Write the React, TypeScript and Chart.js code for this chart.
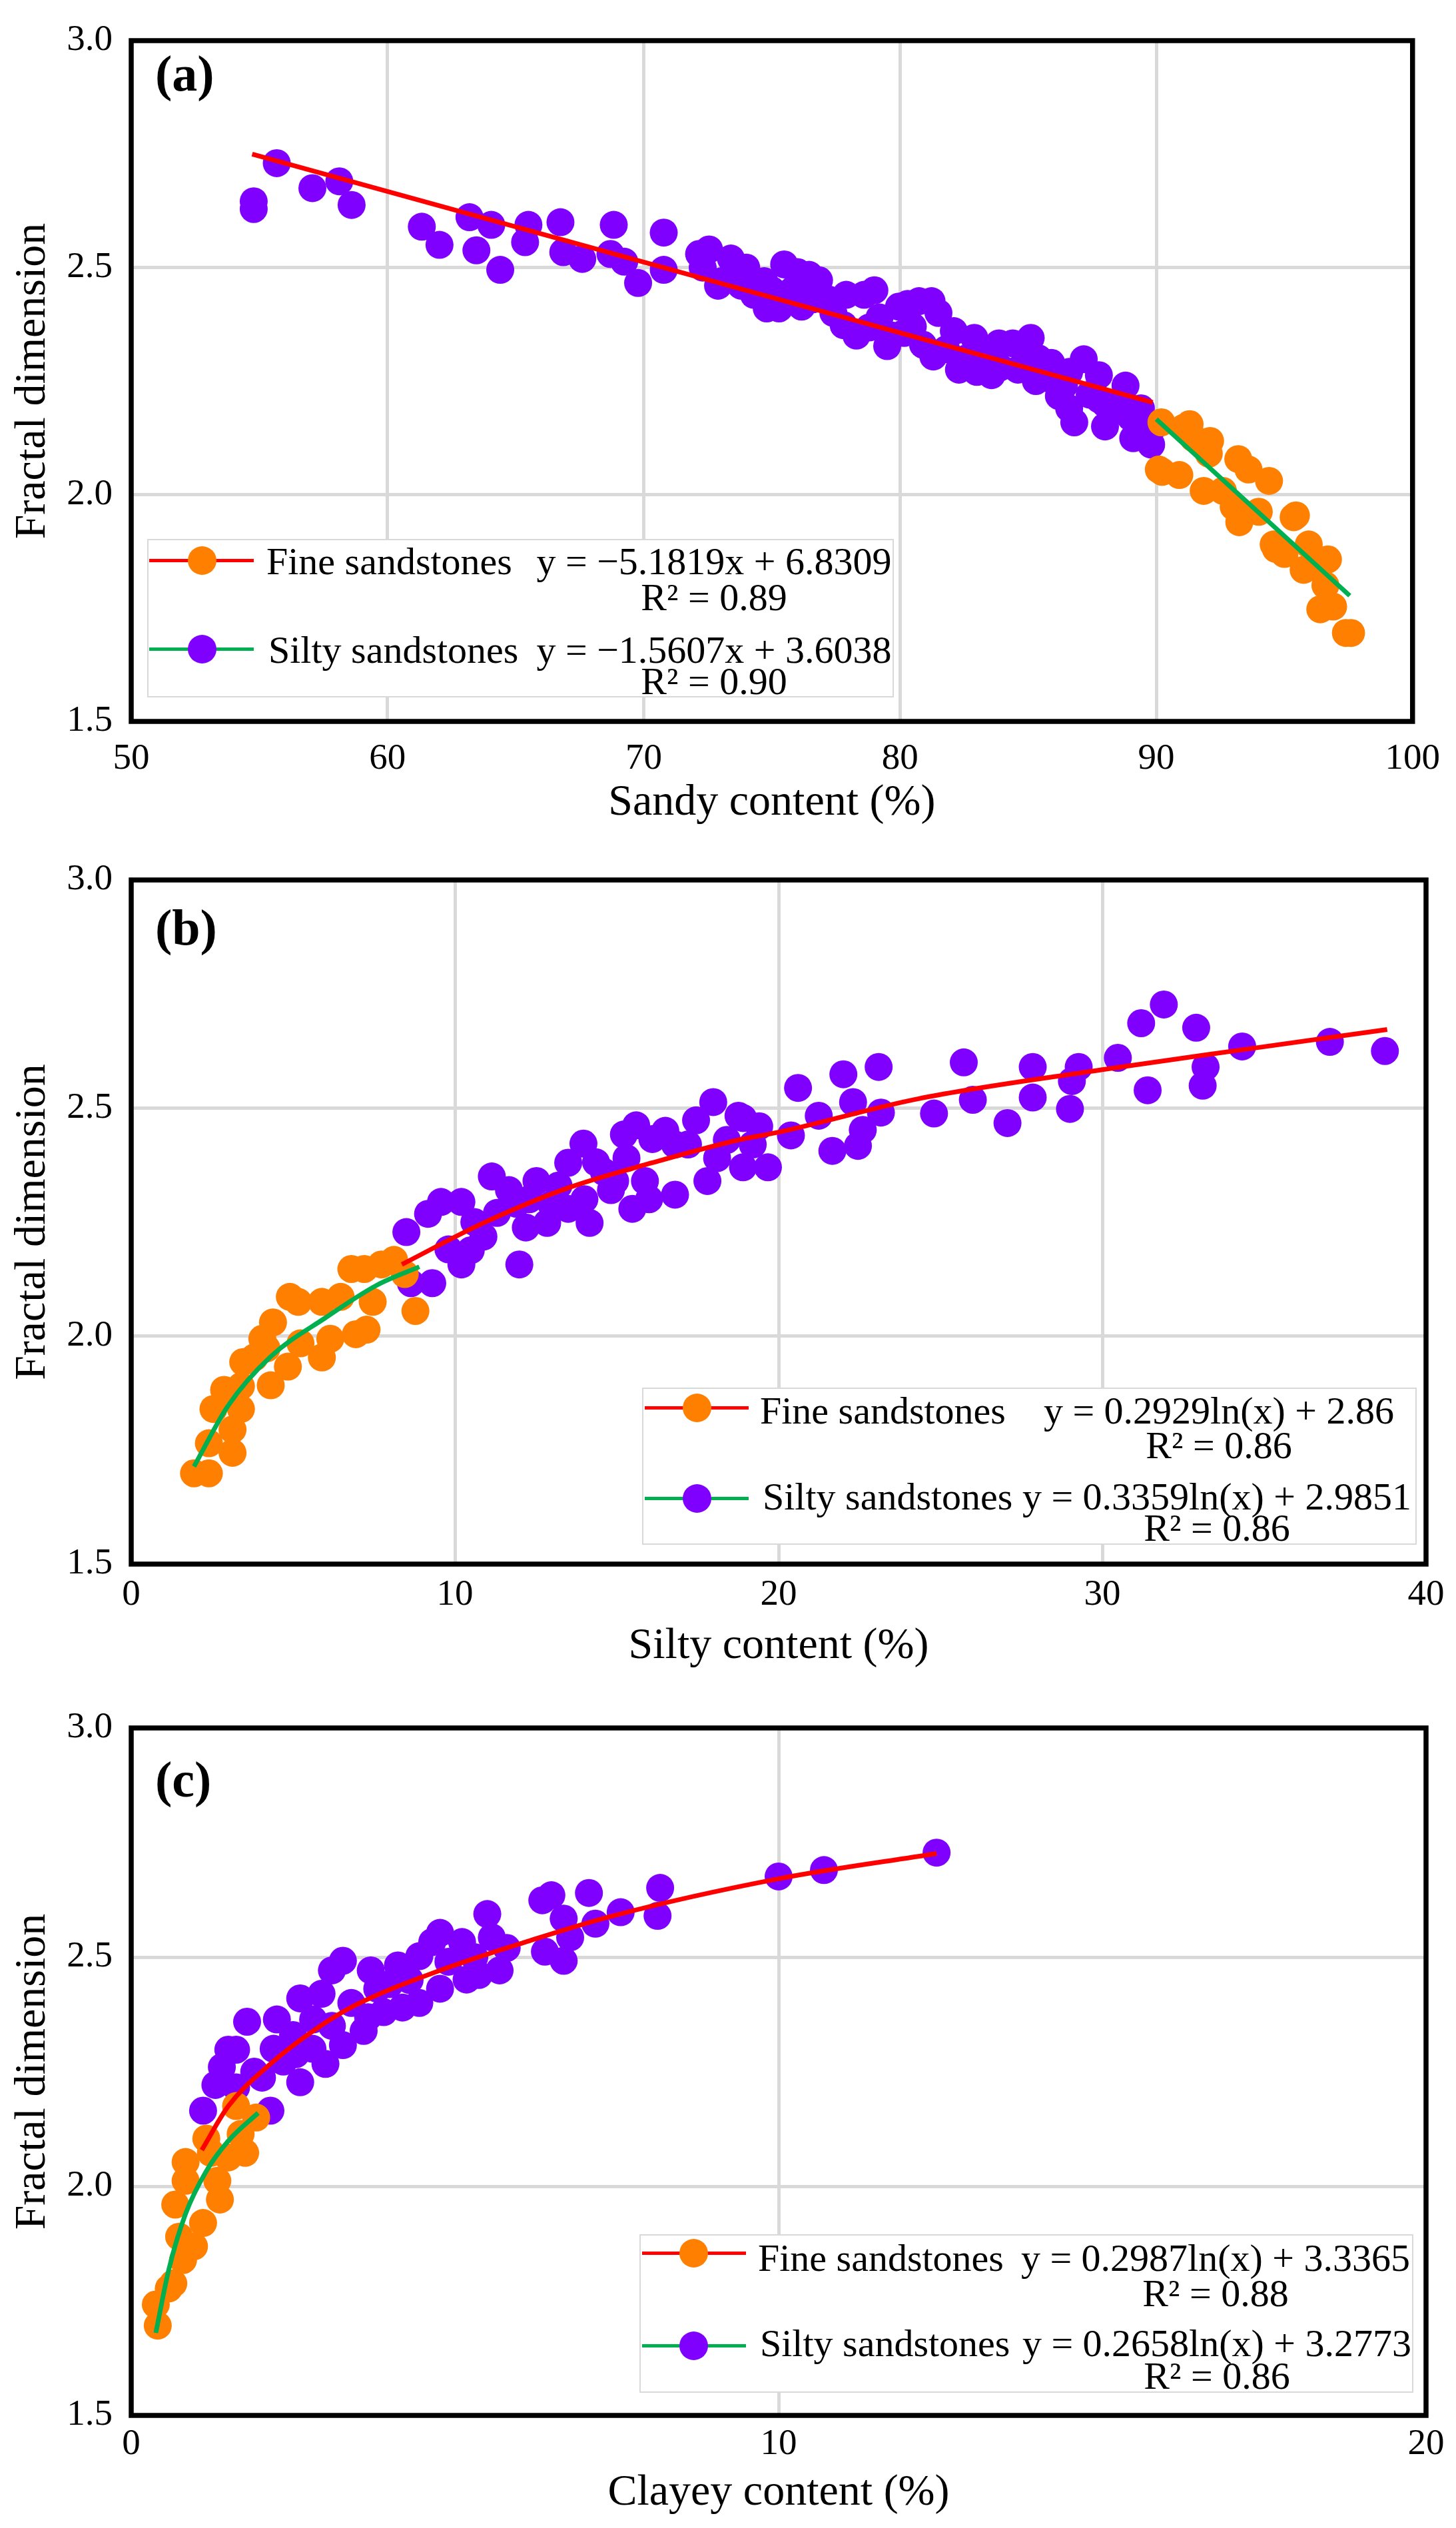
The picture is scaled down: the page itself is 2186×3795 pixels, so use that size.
import React, { useEffect, useRef } from 'react';
import { Chart, registerables } from 'chart.js';

Chart.register(...registerables);

const FONT = "'Liberation Serif', 'Times New Roman', Times, serif";
Chart.defaults.font.family = FONT;
Chart.defaults.color = '#000';

const PURPLE = '#8000ff';
const ORANGE = '#ff8000';
const RED = '#ff0000';
const GREEN = '#00b050';

type Pt = [number, number];

// ---------- Panel (a): Sandy content ----------
const aSilty: Pt[] = [
  [54.78, 2.646], [54.78, 2.629], [55.68, 2.73], [57.07, 2.675], [58.12, 2.69], [58.6, 2.638],
  [61.34, 2.59], [62.03, 2.55], [63.2, 2.611], [63.47, 2.538], [64.05, 2.594], [64.4, 2.495],
  [65.37, 2.556], [65.5, 2.594], [66.75, 2.6], [66.86, 2.534], [67.6, 2.519], [68.7, 2.53],
  [68.83, 2.594], [69.24, 2.513], [69.78, 2.466], [70.78, 2.577], [70.78, 2.495], [72.16, 2.53],
  [72.3, 2.5], [72.55, 2.54], [72.9, 2.46], [73.04, 2.47], [73.4, 2.52], [73.6, 2.49],
  [73.8, 2.46], [74.0, 2.5], [74.3, 2.44], [74.7, 2.47], [74.8, 2.41], [75.0, 2.45],
  [75.28, 2.41], [75.48, 2.507], [75.8, 2.45], [76.0, 2.49], [76.16, 2.414], [76.45, 2.484],
  [76.6, 2.43], [76.84, 2.472], [77.2, 2.43], [77.4, 2.4], [77.8, 2.373], [77.9, 2.44],
  [78.3, 2.35], [78.6, 2.44], [78.8, 2.368], [79.0, 2.45], [79.2, 2.39], [79.5, 2.327],
  [79.7, 2.35], [79.96, 2.414], [80.16, 2.356], [80.3, 2.42], [80.5, 2.37], [80.74, 2.426],
  [80.9, 2.33], [81.23, 2.426], [81.3, 2.304], [81.5, 2.4], [81.8, 2.32], [82.1, 2.36],
  [82.3, 2.275], [82.6, 2.3], [82.9, 2.345], [83.0, 2.27], [83.2, 2.3], [83.5, 2.32],
  [83.57, 2.263], [83.86, 2.333], [83.9, 2.28], [84.4, 2.333], [84.6, 2.275], [85.0, 2.31],
  [85.1, 2.345], [85.3, 2.25], [85.4, 2.3], [85.7, 2.263], [85.9, 2.29], [86.0, 2.25],
  [86.2, 2.217], [86.4, 2.24], [86.6, 2.19], [86.6, 2.27], [86.8, 2.159], [87.17, 2.298],
  [87.4, 2.22], [87.76, 2.263], [87.76, 2.21], [88.0, 2.15], [88.0, 2.2], [88.25, 2.182],
  [88.5, 2.2], [88.8, 2.24], [89.0, 2.17], [89.1, 2.124], [89.4, 2.19], [89.6, 2.153],
  [89.8, 2.11], [89.9, 2.15],
];
const aFine: Pt[] = [
  [90.2, 2.159], [90.1, 2.055], [90.23, 2.05], [90.9, 2.043], [91.07, 2.147], [91.3, 2.155],
  [91.46, 2.124], [91.85, 2.008], [92.05, 2.09], [92.1, 2.118], [92.6, 2.008], [93.02, 1.973],
  [93.2, 2.078], [93.24, 1.939], [93.6, 2.055], [94.0, 1.962], [94.4, 2.03], [94.58, 1.89],
  [94.67, 1.88], [95.0, 1.869], [95.36, 1.95], [95.45, 1.954], [95.75, 1.834], [95.95, 1.89],
  [96.3, 1.846], [96.4, 1.747], [96.6, 1.8], [96.7, 1.857], [96.9, 1.753], [97.4, 1.695],
  [97.6, 1.695],
];
const aRedTrend: Pt[] = [[54.72, 2.75], [89.86, 2.203]];
const aGreenTrend: Pt[] = [[90.0, 2.166], [97.55, 1.777]];

// ---------- Panel (b): Silty content ----------
const bFine: Pt[] = [
  [1.94, 1.699], [2.4, 1.699], [3.13, 1.744], [2.4, 1.765], [3.13, 1.795], [2.54, 1.84],
  [3.39, 1.84], [2.87, 1.882], [3.39, 1.89], [3.46, 1.943], [4.31, 1.892], [4.18, 1.973],
  [4.84, 1.933], [4.38, 2.03], [4.05, 1.994], [5.16, 2.075], [5.23, 1.984], [5.89, 1.953],
  [5.89, 2.075], [6.15, 1.994], [6.94, 2.004], [7.27, 2.014], [6.8, 2.147], [6.47, 2.086],
  [7.46, 2.075], [7.73, 2.157], [8.12, 2.167], [8.45, 2.136], [8.78, 2.055], [7.2, 2.147],
  [4.9, 2.086], [3.8, 1.953],
];
const bSilty: Pt[] = [
  [8.5, 2.228], [8.64, 2.116], [9.3, 2.116], [9.17, 2.268], [9.57, 2.294], [9.8, 2.19],
  [10.2, 2.294], [10.2, 2.157], [10.49, 2.188], [10.6, 2.25], [10.88, 2.218], [11.14, 2.35],
  [11.3, 2.27], [11.67, 2.32], [11.9, 2.29], [11.99, 2.157], [12.19, 2.238], [12.3, 2.3],
  [12.52, 2.34], [12.85, 2.248], [12.98, 2.289], [13.2, 2.33], [13.5, 2.279], [13.5, 2.38],
  [13.97, 2.422], [14.0, 2.3], [14.16, 2.248], [14.36, 2.381], [14.6, 2.36], [14.82, 2.32],
  [14.95, 2.34], [15.22, 2.442], [15.3, 2.39], [15.48, 2.279], [15.6, 2.462], [15.87, 2.34],
  [16.0, 2.3], [16.1, 2.432], [16.5, 2.45], [16.8, 2.31], [16.8, 2.42], [17.2, 2.42],
  [17.45, 2.473], [17.8, 2.34], [17.98, 2.513], [18.1, 2.39], [18.4, 2.43], [18.76, 2.483],
  [18.9, 2.37], [18.9, 2.478], [19.2, 2.42], [19.4, 2.46], [19.67, 2.37], [20.38, 2.44],
  [20.6, 2.544], [21.24, 2.483], [21.66, 2.406], [22.0, 2.574], [22.3, 2.513], [22.45, 2.417],
  [22.6, 2.452], [23.09, 2.59], [23.16, 2.49], [24.8, 2.488], [25.72, 2.6], [26.0, 2.518],
  [27.07, 2.467], [27.85, 2.59], [27.85, 2.523], [29.0, 2.498], [29.06, 2.559], [29.27, 2.59],
  [30.48, 2.61], [31.2, 2.686], [31.4, 2.539], [31.9, 2.727], [32.9, 2.676], [33.1, 2.549],
  [33.19, 2.59], [34.32, 2.635], [37.03, 2.645], [38.73, 2.625],
];
const bRedTrend: Pt[] = [
  [8.36, 2.157], [10.88, 2.248], [13.5, 2.325], [16.1, 2.38], [18.76, 2.43], [20.0, 2.447],
  [24.3, 2.52], [30.0, 2.584], [34.25, 2.627], [38.8, 2.672],
];
const bGreenTrend: Pt[] = [
  [1.94, 1.714], [3.0, 1.848], [4.31, 1.955], [6.0, 2.04], [7.6, 2.112], [8.9, 2.152],
];

// ---------- Panel (c): Clayey content ----------
const cFine: Pt[] = [
  [0.41, 1.696], [0.38, 1.742], [0.58, 1.777], [0.65, 1.788], [0.8, 1.839], [0.74, 1.89],
  [0.97, 1.869], [0.68, 1.96], [1.11, 1.92], [0.84, 2.012], [1.37, 1.971], [0.84, 2.053],
  [1.33, 2.012], [1.23, 2.073], [1.5, 2.063], [1.16, 2.104], [1.76, 2.073], [1.69, 2.114],
  [1.93, 2.15], [1.62, 2.175],
];
const cSilty: Pt[] = [
  [1.11, 2.165], [1.3, 2.221], [1.4, 2.26], [1.5, 2.298], [1.62, 2.216], [1.62, 2.298],
  [1.79, 2.359], [1.9, 2.25], [2.02, 2.237], [2.15, 2.165], [2.2, 2.3], [2.25, 2.364],
  [2.35, 2.272], [2.5, 2.33], [2.54, 2.288], [2.61, 2.227], [2.61, 2.41], [2.8, 2.3],
  [2.81, 2.364], [2.94, 2.42], [3.0, 2.267], [3.1, 2.35], [3.1, 2.471], [3.27, 2.492],
  [3.27, 2.308], [3.4, 2.4], [3.59, 2.339], [3.66, 2.369], [3.7, 2.471], [3.8, 2.431],
  [3.9, 2.38], [3.99, 2.441], [4.12, 2.482], [4.19, 2.39], [4.3, 2.45], [4.45, 2.4],
  [4.45, 2.502], [4.65, 2.533], [4.77, 2.553], [4.77, 2.431], [4.9, 2.49], [5.11, 2.533],
  [5.18, 2.451], [5.3, 2.5], [5.37, 2.461], [5.5, 2.594], [5.57, 2.543], [5.69, 2.471],
  [5.8, 2.52], [6.35, 2.624], [6.39, 2.512], [6.49, 2.635], [6.68, 2.584], [6.68, 2.492],
  [6.78, 2.543], [7.07, 2.64], [7.17, 2.573], [7.56, 2.598], [8.13, 2.59], [8.17, 2.651],
  [10.0, 2.676], [10.7, 2.69], [12.44, 2.728],
];
const cRedTrend: Pt[] = [
  [1.09, 2.079], [1.5, 2.175], [2.15, 2.267], [2.81, 2.339], [3.46, 2.395], [4.77, 2.471],
  [6.09, 2.533], [7.41, 2.589], [10.0, 2.671], [12.44, 2.726],
];
const cGreenTrend: Pt[] = [
  [0.38, 1.68], [0.58, 1.818], [0.84, 1.94], [1.16, 2.033], [1.5, 2.099], [1.96, 2.16],
];

const yTicks = ['1.5', '2.0', '2.5', '3.0'];

type PanelCfg = {
  top: number;
  height: number;
  xMin: number;
  xMax: number;
  xStep: number;
  xTitle: string;
  padTop: number;
  axisH: number;
  padBottom: number;
  tickPad: number;
  silty: Pt[];
  fine: Pt[];
  red: Pt[];
  green: Pt[];
};

const toXY = (pts: Pt[]) => pts.map(([x, y]) => ({ x, y }));

const framePlugin = {
  id: 'frameBox',
  afterDatasetsDraw(chart: any) {
    const { ctx, chartArea } = chart;
    const { left, top, right, bottom } = chartArea;
    ctx.save();
    ctx.strokeStyle = '#000';
    ctx.lineWidth = 7.5;
    ctx.strokeRect(left, top, right - left, bottom - top);
    ctx.restore();
  },
};

function Panel({ cfg }: { cfg: PanelCfg }) {
  const ref = useRef<HTMLCanvasElement | null>(null);
  useEffect(() => {
    if (!ref.current) return;
    const pointDs = (pts: Pt[], color: string, order: number) => ({
      data: toXY(pts),
      backgroundColor: color,
      borderColor: color,
      pointRadius: 21,
      pointHoverRadius: 21,
      pointBorderWidth: 0,
      showLine: false,
      order,
    });
    const lineDs = (pts: Pt[], color: string, order: number) => ({
      data: toXY(pts),
      borderColor: color,
      backgroundColor: color,
      borderWidth: 7,
      pointRadius: 0,
      pointHoverRadius: 0,
      showLine: true,
      fill: false,
      cubicInterpolationMode: 'monotone',
      order,
    });
    const chart = new Chart(ref.current, {
      type: 'scatter',
      data: {
        datasets: [
          pointDs(cfg.silty, PURPLE, 4) as any,
          pointDs(cfg.fine, ORANGE, 3) as any,
          lineDs(cfg.red, RED, 2) as any,
          lineDs(cfg.green, GREEN, 1) as any,
        ],
      },
      options: {
        responsive: false,
        animation: false,
        events: [],
        layout: { padding: { top: cfg.padTop, bottom: cfg.padBottom, left: 0, right: 45 } },
        plugins: { legend: { display: false }, tooltip: { enabled: false } },
        scales: {
          x: {
            type: 'linear',
            min: cfg.xMin,
            max: cfg.xMax,
            ticks: {
              stepSize: cfg.xStep,
              color: '#000',
              padding: cfg.tickPad,
              font: { family: FONT, size: 55 },
            },
            grid: { color: '#d9d9d9', lineWidth: 5, drawTicks: false },
            border: { display: false },
            title: {
              display: true,
              text: cfg.xTitle,
              color: '#000',
              padding: 0,
              font: { family: FONT, size: 66, lineHeight: 1.2 },
            },
            afterFit: (s: any) => {
              s.height = cfg.axisH;
            },
          },
          y: {
            type: 'linear',
            min: 1.5,
            max: 3.0,
            ticks: {
              stepSize: 0.5,
              color: '#000',
              padding: 28,
              font: { family: FONT, size: 55 },
              callback: (v: any) => {
                const s = Number(v).toFixed(1);
                return yTicks.includes(s) ? s : '';
              },
            },
            grid: { color: '#d9d9d9', lineWidth: 5, drawTicks: false },
            border: { display: false },
            title: {
              display: true,
              text: 'Fractal dimension',
              color: '#000',
              padding: { top: 10, bottom: 0 },
              font: { family: FONT, size: 66, lineHeight: 1.2 },
            },
            afterFit: (s: any) => {
              s.width = 197;
            },
          },
        },
      } as any,
      plugins: [framePlugin],
    });
    return () => chart.destroy();
  }, [cfg]);
  return (
    <canvas
      ref={ref}
      width={2186}
      height={cfg.height}
      style={{ position: 'absolute', left: 0, top: cfg.top, width: 2186, height: cfg.height }}
    />
  );
}

const panelA: PanelCfg = {
  top: 0, height: 1260, xMin: 50, xMax: 100, xStep: 10, xTitle: 'Sandy content (%)',
  padTop: 52, axisH: 162.6, padBottom: 14.4, tickPad: 24,
  silty: aSilty, fine: aFine, red: aRedTrend, green: aGreenTrend,
};
const panelB: PanelCfg = {
  top: 1260, height: 1270, xMin: 0, xMax: 40, xStep: 10, xTitle: 'Silty content (%)',
  padTop: 56, axisH: 163.6, padBottom: 18.4, tickPad: 14,
  silty: bSilty, fine: bFine, red: bRedTrend, green: bGreenTrend,
};
const panelC: PanelCfg = {
  top: 2530, height: 1265, xMin: 0, xMax: 20, xStep: 10, xTitle: 'Clayey content (%)',
  padTop: 64, axisH: 156.6, padBottom: 12.4, tickPad: 11,
  silty: cSilty, fine: cFine, red: cRedTrend, green: cGreenTrend,
};

type LegRow = {
  lineY: number; x1: number; x2: number; dotX: number; lineColor: string; dotColor: string;
  name: string; nameLeft: number; textY: number; eq: string; eqCenter: number; r2: string; r2Y: number;
};

const LF = 58;
const textAt = (left: number, cy: number): React.CSSProperties => ({
  position: 'absolute', left, top: cy - LF * 0.507, fontFamily: FONT, fontSize: LF,
  lineHeight: `${LF}px`, whiteSpace: 'nowrap', color: '#000',
});
const centerAt = (cx: number, cy: number): React.CSSProperties => ({
  ...textAt(cx - 500, cy), width: 1000, textAlign: 'center',
});

function LegendBox({ box, rows }: { box: { left: number; top: number; width: number; height: number }; rows: LegRow[] }) {
  return (
    <>
      <div style={{ position: 'absolute', left: box.left, top: box.top, width: box.width, height: box.height,
        border: '2px solid #d9d9d9', background: '#fff', boxSizing: 'border-box' }} />
      {rows.map((r, i) => (
        <React.Fragment key={i}>
          <div style={{ position: 'absolute', left: r.x1, top: r.lineY - 2.5, width: r.x2 - r.x1, height: 5, background: r.lineColor }} />
          <div style={{ position: 'absolute', left: r.dotX - 21.5, top: r.lineY - 21.5, width: 43, height: 43, borderRadius: '50%', background: r.dotColor }} />
          <div style={textAt(r.nameLeft, r.textY)}>{r.name}</div>
          <div style={centerAt(r.eqCenter, r.textY)}>{r.eq}</div>
          <div style={centerAt(r.eqCenter, r.r2Y)}>{r.r2}</div>
        </React.Fragment>
      ))}
    </>
  );
}

const labelStyle = (top: number): React.CSSProperties => ({
  position: 'absolute', left: 233, top, fontFamily: FONT, fontSize: 76, fontWeight: 'bold',
  lineHeight: '76px', color: '#000', whiteSpace: 'nowrap',
});

export default function App() {
  return (
    <div style={{ position: 'absolute', left: 0, top: 0, width: 2186, height: 3795, overflow: 'hidden', background: '#fff' }}>
      <Panel cfg={panelA} />
      <Panel cfg={panelB} />
      <Panel cfg={panelC} />
      <div style={labelStyle(72)}>(a)</div>
      <div style={labelStyle(1354)}>(b)</div>
      <div style={labelStyle(2633)}>(c)</div>
      <LegendBox
        box={{ left: 221, top: 809, width: 1121, height: 238 }}
        rows={[
          { lineY: 841, x1: 224, x2: 381, dotX: 303, lineColor: RED, dotColor: ORANGE, name: 'Fine sandstones',
            nameLeft: 400, textY: 843, eq: 'y = \u22125.1819x + 6.8309', eqCenter: 1072, r2: 'R\u00b2 = 0.89', r2Y: 897 },
          { lineY: 974, x1: 224, x2: 381, dotX: 303, lineColor: GREEN, dotColor: PURPLE, name: 'Silty sandstones',
            nameLeft: 403, textY: 976, eq: 'y = \u22121.5607x + 3.6038', eqCenter: 1072, r2: 'R\u00b2 = 0.90', r2Y: 1023 },
        ]}
      />
      <LegendBox
        box={{ left: 964, top: 2083, width: 1163, height: 236 }}
        rows={[
          { lineY: 2113, x1: 968, x2: 1124, dotX: 1046, lineColor: RED, dotColor: ORANGE, name: 'Fine sandstones',
            nameLeft: 1141, textY: 2118, eq: 'y = 0.2929ln(x) + 2.86', eqCenter: 1830, r2: 'R\u00b2 = 0.86', r2Y: 2170 },
          { lineY: 2249, x1: 968, x2: 1124, dotX: 1046, lineColor: GREEN, dotColor: PURPLE, name: 'Silty sandstones',
            nameLeft: 1145, textY: 2247, eq: 'y = 0.3359ln(x) + 2.9851', eqCenter: 1827, r2: 'R\u00b2 = 0.86', r2Y: 2294 },
        ]}
      />
      <LegendBox
        box={{ left: 960, top: 3354, width: 1162, height: 238 }}
        rows={[
          { lineY: 3382, x1: 964, x2: 1120, dotX: 1041, lineColor: RED, dotColor: ORANGE, name: 'Fine sandstones',
            nameLeft: 1138, textY: 3390, eq: 'y = 0.2987ln(x) + 3.3365', eqCenter: 1825, r2: 'R\u00b2 = 0.88', r2Y: 3443 },
          { lineY: 3521, x1: 964, x2: 1120, dotX: 1041, lineColor: GREEN, dotColor: PURPLE, name: 'Silty sandstones',
            nameLeft: 1141, textY: 3518, eq: 'y = 0.2658ln(x) + 3.2773', eqCenter: 1827, r2: 'R\u00b2 = 0.86', r2Y: 3567 },
        ]}
      />
    </div>
  );
}
